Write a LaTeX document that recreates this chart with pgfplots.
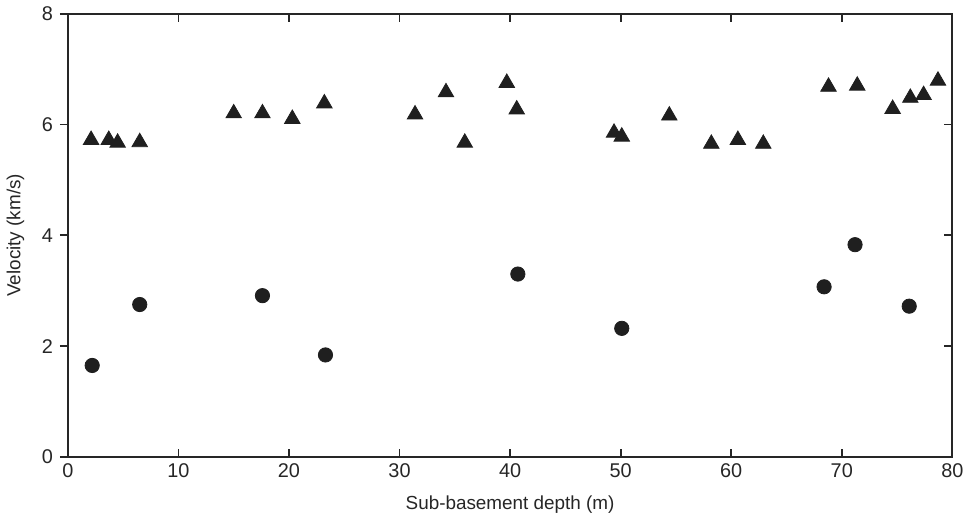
\documentclass[border=0pt]{standalone}
\usepackage{pgfplots}
\pgfplotsset{compat=1.18}
\usepackage{fontspec}
\setmainfont{Liberation Sans}
\begin{document}
\begin{tikzpicture}
\pgfplotsset{
  common/.style={
    scale only axis, width=445pt, height=223pt,
    xmin=0, xmax=80, ymin=0, ymax=8,
    axis line style={line width=0.9pt, black!85},
    /pgf/number format/assume math mode=true,
    tick label style={font=\fontsize{10}{12}\selectfont, black!85},
    label style={font=\fontsize{9.5}{12}\selectfont, black!85},
    major tick length=4pt,
    tick style={line width=0.9pt, black!85},
  }
}
\begin{axis}[common,
  tick align=inside,
  xtick={0,10,...,80}, xtick pos=both, xticklabel pos=bottom,
  ytick={0,2,...,8}, ytick pos=right, yticklabels={},
  xlabel={Sub-basement depth (m)},
  xlabel style={yshift=-2pt},
]
\addplot[only marks, mark=triangle*, mark size=4.5pt, black!88] coordinates {
(2.1,5.72) (3.7,5.72) (4.5,5.67) (6.5,5.68)
(15.0,6.20) (17.6,6.20) (20.3,6.10) (23.2,6.38)
(31.4,6.18) (34.2,6.58) (35.9,5.67) (39.7,6.75) (40.6,6.27)
(49.4,5.85) (50.1,5.78) (54.4,6.16)
(58.2,5.65) (60.6,5.72) (62.9,5.65)
(68.8,6.68) (71.4,6.70) (74.6,6.28) (76.2,6.48) (77.4,6.53) (78.7,6.79)
};
\addplot[only marks, mark=*, mark size=3.6pt, black!88] coordinates {
(2.2,1.65) (6.5,2.75) (17.6,2.91) (23.3,1.84)
(40.7,3.30) (50.1,2.32) (68.4,3.07) (71.2,3.83) (76.1,2.72)
};
\end{axis}
\begin{axis}[common,
  tick align=outside,
  xtick=\empty,
  ytick={0,2,...,8}, ytick pos=left,
  ylabel={Velocity (km/s)},
  ylabel style={yshift=2pt},
]
\end{axis}
\end{tikzpicture}
\end{document}
